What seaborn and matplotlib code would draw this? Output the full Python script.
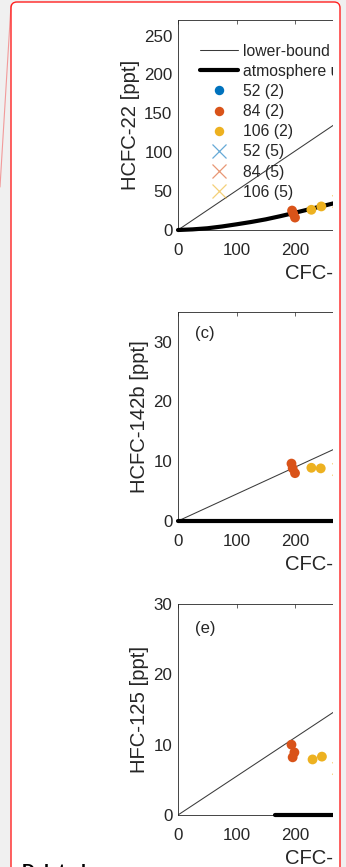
import matplotlib
matplotlib.use("Agg")
import matplotlib.pyplot as plt
import matplotlib.patches as mpatches
from matplotlib.lines import Line2D
import seaborn as sns

sns.set_theme(style="white")
plt.rcParams["font.family"] = ["Liberation Sans", "DejaVu Sans"]

# ---- data -------------------------------------------------------------
panel_ylabels = ["HCFC-22 [ppt]", "HCFC-142b [ppt]", "HFC-125 [ppt]"]
panel_letters = ["", "(c)", "(e)"]
panel_ylims = [(0, 270), (0, 35), (0, 30)]
panel_yticks = [[0, 50, 100, 150, 200, 250], [0, 10, 20, 30], [0, 10, 20, 30]]
x_limits = (0, 560)
x_ticks = [0, 100, 200, 300, 400, 500]
x_label = "CFC-11 [ppt]"

# lower-bound lines (CFC-11 vs species)
lb_x = [0, 560]
lb_y = [[0, 284], [0, 25.2], [0, 30.8]]

# atmospheric trajectories
atm_x = [
    [0, 25, 50, 75, 100, 125, 150, 175, 200, 225, 250, 275, 300],
    [0, 50, 100, 150, 200, 250, 300],
    [166, 200, 250, 300],
]
atm_y = [
    [0, 0.8, 2.2, 4.5, 7.3, 10.3, 13.7, 17.8, 22.2, 26.8, 31.3, 36.0, 40.5],
    [0, 0, 0, 0, 0, 0, 0],
    [0, 0, 0, 0],
]

# injection samples, 2-day ages (filled circles)
s52_2_x = [[], [], []]
s52_2_y = [[], [], []]
s84_2_x = [[195, 197, 200], [194, 196, 200], [194, 199, 196]]
s84_2_y = [[25.0, 21.0, 16.0], [9.6, 8.8, 8.0], [10.0, 8.9, 8.2]]
s106_2_x = [[228, 245], [228, 244], [230, 246]]
s106_2_y = [[26.0, 30.3], [8.9, 8.8], [7.9, 8.3]]

# injection samples, 5-day ages (crosses)
s52_5_x = [[], [], []]
s52_5_y = [[], [], []]
s84_5_x = [[], [], []]
s84_5_y = [[], [], []]
s106_5_x = [[273], [273], [273]]
s106_5_y = [[37.2], [8.7], [6.7]]

legend_labels = ["lower-bound", "atmosphere until 2020",
                 "52 (2)", "84 (2)", "106 (2)", "52 (5)", "84 (5)", "106 (5)"]

c_blue = "#0072BD"
c_red = "#D95319"
c_yel = "#EDB120"
ax_col = "#262626"

# ---- figure -----------------------------------------------------------
W, H, DPI = 346, 867, 100
fig = plt.figure(figsize=(W / DPI, H / DPI), dpi=DPI)
fig.patch.set_facecolor("#f0f0f0")

def px_box(x0, top, x1, bottom):
    return [x0 / W, 1 - bottom / H, (x1 - x0) / W, (bottom - top) / H]

x_span = 0.585 * (x_limits[1] - x_limits[0])
axes_boxes = [
    px_box(178, 20, 178 + x_span, 230),
    px_box(178, 311.7, 178 + x_span, 521),
    px_box(178, 604, 178 + x_span, 815),
]

# page comment box
inch = fig.dpi_scale_trans
box = mpatches.FancyBboxPatch((11 / DPI, -20 / DPI), 329 / DPI, (H - 2 + 20) / DPI,
                              boxstyle="round,pad=0,rounding_size=0.06",
                              transform=inch, facecolor="white", edgecolor="none",
                              zorder=-1)
fig.patches.append(box)

tick_fs = 12.2
for i in range(3):
    ax = fig.add_axes(axes_boxes[i])
    ax.set_facecolor("white")
    sns.lineplot(x=lb_x, y=lb_y[i], ax=ax, color="#3a3a3a", lw=0.75,
                 sort=False, estimator=None)
    sns.lineplot(x=atm_x[i], y=atm_y[i], ax=ax, color="black", lw=3.0,
                 sort=False, estimator=None, clip_on=False, zorder=3)
    for xs, ys, col in [(s52_2_x, s52_2_y, c_blue), (s84_2_x, s84_2_y, c_red),
                        (s106_2_x, s106_2_y, c_yel)]:
        if len(xs[i]):
            sns.scatterplot(x=xs[i], y=ys[i], ax=ax, color=col, s=50,
                            edgecolor="none", legend=False, zorder=4)
    for xs, ys, col in [(s52_5_x, s52_5_y, c_blue), (s84_5_x, s84_5_y, c_red),
                        (s106_5_x, s106_5_y, c_yel)]:
        if len(xs[i]):
            sns.scatterplot(x=xs[i], y=ys[i], ax=ax, color=col, s=80, marker="x",
                            linewidth=0.9, alpha=0.6, legend=False, zorder=4)

    ax.set_xlim(*x_limits)
    ax.set_ylim(*panel_ylims[i])
    ax.set_xticks(x_ticks)
    ax.set_yticks(panel_yticks[i])
    ax.tick_params(direction="in", top=True, right=True, length=3, width=0.5,
                   colors=ax_col, labelsize=tick_fs)
    ax.tick_params(axis="x", pad=9.2)
    ax.tick_params(axis="y", pad=4.0)
    for sp in ax.spines.values():
        sp.set_color(ax_col)
        sp.set_linewidth(0.6)
    ax.set_xlabel(x_label, fontsize=14.6, color=ax_col, labelpad=4.2)
    ax.set_ylabel(panel_ylabels[i], fontsize=14.6, color=ax_col, labelpad=3)
    if panel_letters[i]:
        ax.text(195 / W, 1 - (326 if i == 1 else 621) / H, panel_letters[i],
                transform=fig.transFigure, fontsize=12, color=ax_col,
                ha="left", va="top")

    if i == 0:
        handles = [
            Line2D([], [], color="#3a3a3a", lw=0.75),
            Line2D([], [], color="black", lw=3.0),
            Line2D([], [], ls="none", marker="o", ms=6.8, color=c_blue, mec="none"),
            Line2D([], [], ls="none", marker="o", ms=6.8, color=c_red, mec="none"),
            Line2D([], [], ls="none", marker="o", ms=6.8, color=c_yel, mec="none"),
            Line2D([], [], ls="none", marker="x", ms=9.5, mew=0.9, color=c_blue, alpha=0.6),
            Line2D([], [], ls="none", marker="x", ms=9.5, mew=0.9, color=c_red, alpha=0.6),
            Line2D([], [], ls="none", marker="x", ms=9.5, mew=0.9, color=c_yel, alpha=0.6),
        ]
        leg = ax.legend(handles, legend_labels, loc="upper left",
                        bbox_to_anchor=(200 / W, 1 - 43.5 / H),
                        bbox_transform=fig.transFigure, frameon=False,
                        fontsize=11.3, handlelength=2.45, handletextpad=0.3,
                        labelspacing=0.33, borderpad=0, borderaxespad=0)
        for t in leg.get_texts():
            t.set_color(ax_col)

# right margin of the page: white gutter, grey canvas and the red comment frame
fig.patches.append(mpatches.Rectangle((333 / DPI, 0), 7 / DPI, (H - 2) / DPI,
                                      transform=inch, facecolor="white",
                                      edgecolor="none", zorder=5))
fig.patches.append(mpatches.Rectangle((340 / DPI, 0), 6 / DPI, H / DPI,
                                      transform=inch, facecolor="#f0f0f0",
                                      edgecolor="none", zorder=5))
frame = mpatches.FancyBboxPatch((11 / DPI, -20 / DPI), 329 / DPI, (H - 2 + 20) / DPI,
                                boxstyle="round,pad=0,rounding_size=0.06",
                                transform=inch, facecolor="none", edgecolor="#ff2020",
                                lw=1.0, zorder=6)
fig.patches.append(frame)
fig.lines.append(Line2D([11 / DPI, 0], [(H - 5) / DPI, (H - 187) / DPI],
                        transform=inch, color="#f29a9a", lw=0.8, zorder=6))

fig.text(22 / W, 1 - 864 / H, "Deleted:", fontsize=13, fontweight="bold",
         color="black", ha="left", va="top")

fig.savefig("out.png", dpi=DPI, facecolor=fig.get_facecolor())
